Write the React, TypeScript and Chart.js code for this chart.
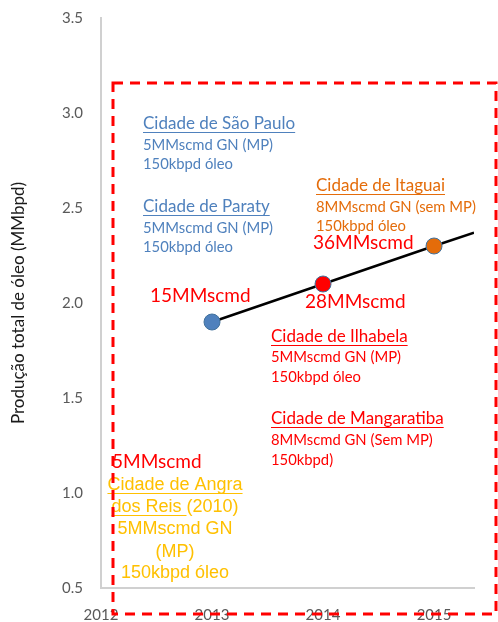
import { useEffect, useRef } from "react";
import { Chart, registerables } from "chart.js";

Chart.register(...registerables);

// Oil output (MMbpd) per year, with the gas figure reached that year
const years = [2013, 2014, 2015];
const oilOutput = [1.9, 2.1, 2.3];
const pointColors = ["#4f81bd", "#ff0000", "#e46c0a"];

// Trend line through the yearly points, running on to the right edge
const trendYears = [2013, 2014, 2015, 2015.36];
const trendOutput = [1.9, 2.1, 2.3, 2.37];

const xTicks = [2012, 2013, 2014, 2015];
const yTicks = [0.5, 1.0, 1.5, 2.0, 2.5, 3.0, 3.5];

const SANS = "Lato, 'Noto Sans', sans-serif";
const ARIAL = "'Liberation Sans', Arial, sans-serif";

const BLUE = "#4f81bd";
const ORANGE = "#e46c0a";
const RED = "#ff0000";
const YELLOW = "#ffc000";

type Note = {
  text: string;
  x: number;
  y: number;
  color: string;
  size: number;
  family?: string;
  align?: CanvasTextAlign;
  underline?: string; // part of the text to underline (from its start)
};

// Free-floating text notes drawn over the plot
const notes: Note[] = [
  { text: "Cidade de São Paulo", x: 143, y: 124, color: BLUE, size: 17, underline: "Cidade de São Paulo" },
  { text: "5MMscmd GN (MP)", x: 143, y: 145, color: BLUE, size: 14.8 },
  { text: "150kbpd óleo", x: 143, y: 164, color: BLUE, size: 14.8 },
  { text: "Cidade de Paraty", x: 143, y: 207, color: BLUE, size: 17, underline: "Cidade de Paraty" },
  { text: "5MMscmd GN (MP)", x: 143, y: 228, color: BLUE, size: 14.8 },
  { text: "150kbpd óleo", x: 143, y: 247, color: BLUE, size: 14.8 },

  { text: "Cidade de Itaguai", x: 316, y: 186, color: ORANGE, size: 17, underline: "Cidade de Itaguai" },
  { text: "8MMscmd GN (sem MP)", x: 316, y: 207, color: ORANGE, size: 14.8 },
  { text: "150kbpd óleo", x: 316, y: 226, color: ORANGE, size: 14.8 },

  { text: "Cidade de Ilhabela", x: 271, y: 337, color: RED, size: 17, underline: "Cidade de Ilhabela" },
  { text: "5MMscmd GN (MP)", x: 271, y: 357, color: RED, size: 14.8 },
  { text: "150kbpd óleo", x: 271, y: 377, color: RED, size: 14.8 },
  { text: "Cidade de Mangaratiba", x: 271, y: 419, color: RED, size: 17, underline: "Cidade de Mangaratiba" },
  { text: "8MMscmd GN (Sem MP)", x: 271, y: 440, color: RED, size: 14.8 },
  { text: "150kbpd)", x: 271, y: 460, color: RED, size: 14.8 },

  { text: "15MMscmd", x: 150, y: 296, color: RED, size: 19 },
  { text: "28MMscmd", x: 305, y: 302, color: RED, size: 19 },
  { text: "36MMscmd", x: 313, y: 243, color: RED, size: 19 },
  { text: "5MMscmd", x: 112, y: 462, color: RED, size: 19 },

  { text: "Cidade de Angra", x: 175, y: 485, color: YELLOW, size: 18, family: ARIAL, align: "center", underline: "Cidade de Angra" },
  { text: "dos Reis (2010)", x: 175, y: 507, color: YELLOW, size: 18, family: ARIAL, align: "center", underline: "dos Reis " },
  { text: "5MMscmd GN", x: 175, y: 529, color: YELLOW, size: 18, family: ARIAL, align: "center" },
  { text: "(MP)", x: 175, y: 552, color: YELLOW, size: 18, family: ARIAL, align: "center" },
  { text: "150kbpd óleo", x: 175, y: 573, color: YELLOW, size: 18, family: ARIAL, align: "center" },
];

// Dashed frame around the projects
const frame = { left: 113, top: 83, right: 496, bottom: 614 };

const notesPlugin = {
  id: "notes",
  afterDraw(chart: Chart) {
    const ctx = chart.ctx;
    ctx.save();
    ctx.textBaseline = "middle";
    for (const n of notes) {
      ctx.font = `${n.size}px ${n.family ?? SANS}`;
      ctx.fillStyle = n.color;
      ctx.textAlign = n.align ?? "left";
      ctx.fillText(n.text, n.x, n.y);
      if (n.underline) {
        const full = ctx.measureText(n.text).width;
        const part = ctx.measureText(n.underline).width;
        const start = n.align === "center" ? n.x - full / 2 : n.x;
        const uy = Math.round(n.y + n.size * 0.45) + 0.5;
        ctx.strokeStyle = n.color;
        ctx.lineWidth = 1.2;
        ctx.beginPath();
        ctx.moveTo(start, uy);
        ctx.lineTo(start + part, uy);
        ctx.stroke();
      }
    }
    ctx.setLineDash([10, 7]);
    ctx.strokeStyle = RED;
    ctx.lineWidth = 3;
    ctx.strokeRect(frame.left, frame.top, frame.right - frame.left, frame.bottom - frame.top);
    ctx.restore();
  },
};

export default function App() {
  const canvasRef = useRef<HTMLCanvasElement | null>(null);

  useEffect(() => {
    if (!canvasRef.current) return;
    const chart = new Chart(canvasRef.current, {
      type: "scatter",
      data: {
        datasets: [
          {
            label: "Produção",
            data: years.map((x, i) => ({ x, y: oilOutput[i] })),
            pointRadius: 8,
            pointBackgroundColor: pointColors,
            pointBorderColor: "#41719c",
            pointBorderWidth: 1,
            showLine: false,
          },
          {
            label: "Tendência",
            data: trendYears.map((x, i) => ({ x, y: trendOutput[i] })),
            showLine: true,
            borderColor: "#000000",
            borderWidth: 2.5,
            pointRadius: 0,
          },
        ],
      },
      options: {
        responsive: false,
        animation: false,
        devicePixelRatio: 1,
        events: [],
        layout: { padding: { top: 18, right: 24, left: 0, bottom: 0 } },
        plugins: { legend: { display: false }, tooltip: { enabled: false } },
        scales: {
          x: {
            type: "linear",
            min: 2012,
            max: 2015.36,
            afterBuildTicks: (s: any) => {
              s.ticks = xTicks.map((v) => ({ value: v }));
            },
            afterFit: (s: any) => {
              s.height = 34;
              s.paddingLeft = 0;
              s.paddingRight = 0;
            },
            ticks: {
              callback: (v: any) => String(v),
              color: "#595959",
              font: { family: SANS, size: 15 },
              padding: 18,
              maxRotation: 0,
              autoSkip: false,
            },
            grid: { display: false, drawTicks: false },
            border: { color: "#d0d0d0", width: 2 },
          },
          y: {
            min: 0.5,
            max: 3.5,
            afterBuildTicks: (s: any) => {
              s.ticks = yTicks.map((v) => ({ value: v }));
            },
            afterFit: (s: any) => {
              s.width = 101;
              s.paddingTop = 0;
              s.paddingBottom = 0;
            },
            ticks: {
              callback: (v: any) => Number(v).toFixed(1),
              color: "#595959",
              font: { family: SANS, size: 15 },
              padding: 18,
            },
            grid: { display: false, drawTicks: false },
            border: { color: "#d0d0d0", width: 2 },
            title: {
              display: true,
              text: "Produção total de óleo (MMbpd)",
              color: "#1a1a1a",
              font: { family: SANS, size: 17 },
              padding: { top: 8, bottom: 0 },
            },
          },
        },
      },
      plugins: [notesPlugin],
    });
    return () => chart.destroy();
  }, []);

  return (
    <div style={{ position: "absolute", left: 0, top: 0, width: 498, height: 622, background: "#fff" }}>
      <canvas ref={canvasRef} width={498} height={622} />
    </div>
  );
}
